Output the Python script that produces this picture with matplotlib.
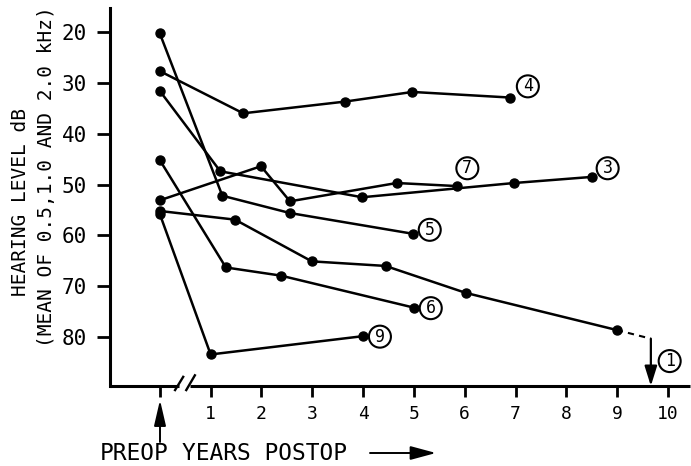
import matplotlib
matplotlib.use("Agg")
import matplotlib.pyplot as plt

plt.rcParams['font.family'] = ['DejaVu Sans Mono', 'DejaVu Sans']

# ---- data (x = years postop, 0 = PREOP; y = hearing level dB) ----
s1_x = [0, 1.48, 2.99, 4.44, 6.02, 8.99]
s1_y = [55.2, 56.9, 65.1, 66.0, 71.3, 78.6]
s1_tail_x = [8.99, 9.66]
s1_tail_y = [78.6, 80.3]
s3_x = [0, 1.19, 3.98, 6.97, 8.50]
s3_y = [31.6, 47.4, 52.5, 49.7, 48.5]
s4_x = [0, 1.64, 3.64, 4.97, 6.89]
s4_y = [27.7, 36.0, 33.7, 31.8, 32.9]
s5_x = [0, 1.23, 2.56, 4.99]
s5_y = [20.3, 52.2, 55.6, 59.7]
s6_x = [0, 1.30, 2.38, 5.00]
s6_y = [45.2, 66.3, 67.9, 74.2]
s7_x = [0, 1.99, 2.56, 4.66, 5.84]
s7_y = [53.1, 46.4, 53.3, 49.7, 50.3]
s9_x = [0, 1.00, 4.00]
s9_y = [55.8, 83.4, 79.8]

series = [(s1_x, s1_y), (s3_x, s3_y), (s4_x, s4_y), (s5_x, s5_y),
          (s6_x, s6_y), (s7_x, s7_y), (s9_x, s9_y)]

labels = ['4', '7', '3', '5', '6', '9', '1']
label_x = [7.24, 6.05, 8.81, 5.31, 5.33, 4.33, 10.03]
label_y = [30.7, 46.8, 46.8, 58.9, 74.3, 79.9, 84.7]

x_ticks = [0, 1, 2, 3, 4, 5, 6, 7, 8, 9, 10]
x_ticklabels = ['', '1', '2', '3', '4', '5', '6', '7', '8', '9', '10']
y_ticks = [20, 30, 40, 50, 60, 70, 80]

W, H = 691, 466
fig = plt.figure(figsize=(W / 100, H / 100), dpi=100)
ax = fig.add_axes([110 / W, 80 / H, (690 - 110) / W, (386 - 8) / H])
XMIN, XMAX = -0.98, 10.43
YBOT, YTOP = 89.6, 15.3
ax.set_xlim(XMIN, XMAX)
ax.set_ylim(YBOT, YTOP)

for sp in ['top', 'right', 'bottom']:
    ax.spines[sp].set_visible(False)
ax.spines['left'].set_linewidth(2.2)

# bottom axis with break
ax.plot([XMIN, 0.37], [YBOT, YBOT], color='black', lw=2.2, clip_on=False, solid_capstyle='butt')
ax.plot([0.60, XMAX], [YBOT, YBOT], color='black', lw=2.2, clip_on=False, solid_capstyle='butt')
ax.plot([0.30, 0.46], [90.4, 87.8], color='black', lw=1.7, clip_on=False)
ax.plot([0.52, 0.69], [90.4, 87.5], color='black', lw=1.7, clip_on=False)

for xs, ys in series:
    ax.plot(xs, ys, color='black', lw=1.8, marker='o', markersize=6.5, clip_on=False)
ax.plot(s1_tail_x, s1_tail_y, color='black', lw=1.5, linestyle=(0, (3, 2.5)))

ax.annotate('', xy=(s1_tail_x[1], YBOT), xytext=(s1_tail_x[1], s1_tail_y[1]),
            arrowprops=dict(arrowstyle='-|>,head_length=0.8,head_width=0.25',
                            lw=1.6, color='black', mutation_scale=15,
                            shrinkA=0, shrinkB=0))

for t, lx, ly in zip(labels, label_x, label_y):
    ax.text(lx, ly, t, ha='center', va='center', fontsize=12,
            bbox=dict(boxstyle='circle,pad=0.12', fc='white', ec='black', lw=1.5))

ax.set_xticks(x_ticks)
ax.set_xticklabels(x_ticklabels)
ax.set_yticks(y_ticks)
ax.tick_params(axis='x', direction='out', length=8, width=2.0, pad=6, labelsize=13)
ax.tick_params(axis='y', direction='out', length=9.5, width=2.0, pad=7, labelsize=15)

fig.text(21 / W, 1 - 202 / H, 'HEARING LEVEL dB', rotation=90,
         ha='center', va='center', fontsize=14)
fig.text(47 / W, 1 - 177 / H, '(MEAN OF 0.5,1.0 AND 2.0 kHz)', rotation=90,
         ha='center', va='center', fontsize=14)

fig.text(134 / W, 1 - 453 / H, 'PREOP', ha='center', va='center', fontsize=16.5)
fig.text(182 / W, 1 - 453 / H, 'YEARS POSTOP', ha='left', va='center', fontsize=16.5)

ax.annotate('', xy=(436, H - 453), xytext=(370, H - 453), xycoords='figure pixels',
            textcoords='figure pixels',
            arrowprops=dict(arrowstyle='-|>,head_length=1.3,head_width=0.35',
                            lw=1.4, color='black', mutation_scale=12,
                            shrinkA=0, shrinkB=0))
ax.annotate('', xy=(160, H - 400), xytext=(160, H - 442), xycoords='figure pixels',
            textcoords='figure pixels',
            arrowprops=dict(arrowstyle='-|>,head_length=1.3,head_width=0.3',
                            lw=1.4, color='black', mutation_scale=12,
                            shrinkA=0, shrinkB=0))

fig.savefig('out.png', dpi=100)
